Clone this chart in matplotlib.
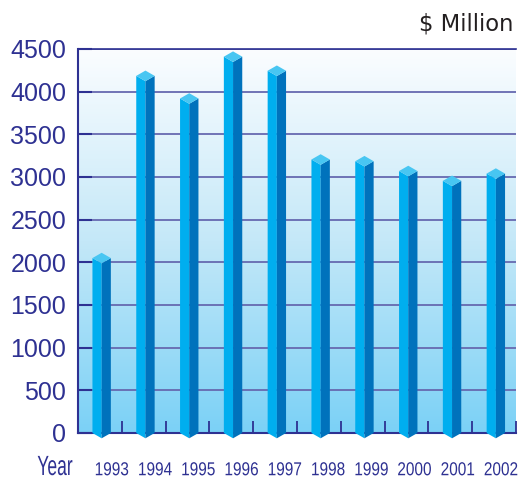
"""Annual value bar chart, $ Million, 1993-2002, drawn as faceted 3-D style prisms."""

import matplotlib as mpl
mpl.use("Agg")
import matplotlib.pyplot as plt
import numpy as np
from matplotlib import patheffects
from matplotlib.colors import LinearSegmentedColormap
from matplotlib.transforms import Affine2D

YEARS = ["1993", "1994", "1995", "1996", "1997", "1998", "1999", "2000", "2001", "2002"]
VALUES = [2050, 4185, 3920, 4410, 4245, 3205, 3185, 3070, 2955, 3040]
Y_TICKS = [0, 500, 1000, 1500, 2000, 2500, 3000, 3500, 4000, 4500]

NAVY, GRIDC, INK = "#2e3192", "#6669b0", "#231f20"
LIGHT, DARK, TOP = "#00aeef", "#0072bc", "#48c6f2"
HALF_W = 0.21      # half width of a prism, in slot units
CAP = 62           # half height of the top diamond, in data units


class Condense(patheffects.AbstractPathEffect):
    """Squeeze glyphs horizontally about their own centre (no narrow font installed)."""

    def __init__(self, sx):
        super().__init__()
        self.sx = sx

    def draw_path(self, renderer, gc, tpath, affine, rgbFace=None):
        xs = tpath.vertices[:, 0]
        cx = 0.5 * (xs.min() + xs.max()) if len(xs) else 0.0
        squeeze = Affine2D().translate(-cx, 0).scale(self.sx, 1).translate(cx, 0)
        renderer.draw_path(gc, tpath, squeeze + affine, rgbFace)


def draw_prism(ax, xc, val):
    kw = dict(lw=0, clip_on=False, zorder=3)
    ax.fill([xc - HALF_W, xc, xc, xc - HALF_W], [val, val - CAP, -CAP, 0], color=LIGHT, **kw)
    ax.fill([xc, xc + HALF_W, xc + HALF_W, xc], [val - CAP, val, 0, -CAP], color=DARK, **kw)
    ax.fill([xc - HALF_W, xc, xc + HALF_W, xc], [val, val + CAP, val, val - CAP], color=TOP, **kw)


def main():
    fig = plt.figure(figsize=(5.24, 4.80), dpi=100)
    ax = fig.add_axes([78 / 524, 1 - 433 / 480, 438 / 524, 384 / 480])

    grad = LinearSegmentedColormap.from_list("bg", ["#7bd1f6", "#c4e8f8", "#fbfdff"])
    ax.imshow(np.linspace(0, 1, 256)[:, None], cmap=grad, origin="lower", aspect="auto",
              extent=[0, 10, 0, 4500], interpolation="bilinear", zorder=0)

    for i, v in enumerate(VALUES):
        draw_prism(ax, i + 0.54, v)

    ax.set_xlim(0, 10)
    ax.set_ylim(0, 4500)
    ax.set_yticks(Y_TICKS)
    ax.yaxis.grid(True, color=GRIDC, lw=1.3, zorder=1)
    ax.set_axisbelow(True)
    ax.tick_params(axis="y", direction="in", length=10, width=1.5, color=NAVY, pad=8.5,
                   labelsize=18, labelcolor=NAVY)
    for lab in ax.get_yticklabels():
        lab.set_family(["Liberation Sans", "DejaVu Sans"])

    # boundary ticks point up from the axis; year labels sit a little right of each prism
    ax.set_xticks([])
    ax.set_xticks(np.arange(1, 11), minor=True)
    ax.tick_params(axis="x", which="minor", direction="in", length=9, width=1.3, color=NAVY,
                   labelbottom=False)
    narrow = [Condense(0.82)]
    for i, yr in enumerate(YEARS):
        ax.text(i + 0.77 - 0.012 * i, -0.11, yr, transform=ax.get_xaxis_transform(),
                ha="center", va="baseline", fontsize=13.5, color=NAVY, family="Liberation Sans",
                path_effects=narrow)

    for side in ("left", "bottom", "top"):
        ax.spines[side].set_color(NAVY)
        ax.spines[side].set_linewidth(1.5)
    ax.spines["top"].set_linewidth(1.2)
    ax.spines["right"].set_visible(False)

    fig.text(55 / 524, 1 - 475 / 480, "Year", color=NAVY, fontsize=20, family="Liberation Sans",
             ha="center", va="baseline", path_effects=[Condense(0.63)])
    fig.text(513 / 524, 1 - 30 / 480, "$ Million", color=INK, fontsize=16.3,
             family="DejaVu Sans", ha="right", va="baseline")

    fig.savefig("out.png", dpi=100, facecolor="white")
    plt.close(fig)


if __name__ == "__main__":
    main()
